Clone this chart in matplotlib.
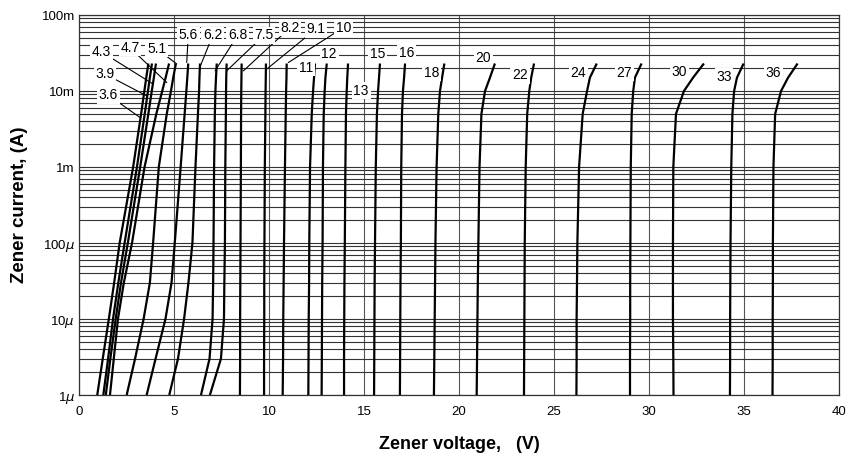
import numpy as np
import matplotlib
matplotlib.use("Agg")
import matplotlib.pyplot as plt
from matplotlib.ticker import FixedLocator, LogLocator, NullFormatter

plt.rcParams['font.family'] = ['Liberation Sans', 'DejaVu Sans']

# Current levels (A) at which each curve's voltage was read
currents = [1e-6, 3e-6, 10e-6, 30e-6, 100e-6, 1e-3, 5e-3, 10e-3, 15e-3, 23e-3]

v3_6 = [0.96, 1.25, 1.57, 1.85, 2.14, 2.85, 3.27, 3.44, 3.54, 3.65]
v3_9 = [1.28, 1.53, 1.79, 2.07, 2.40, 3.05, 3.46, 3.63, 3.73, 3.84]
v4_3 = [1.41, 1.65, 1.93, 2.21, 2.57, 3.22, 3.65, 3.83, 3.94, 4.05]
v4_7 = [1.63, 1.83, 2.05, 2.36, 2.79, 3.45, 4.07, 4.38, 4.56, 4.74]
v5_1 = [2.51, 2.95, 3.40, 3.73, 3.90, 4.20, 4.62, 4.84, 4.96, 5.10]
v5_6 = [3.56, 4.03, 4.55, 4.87, 5.04, 5.35, 5.56, 5.65, 5.70, 5.75]
v6_2 = [4.75, 5.21, 5.53, 5.76, 5.97, 6.13, 6.26, 6.32, 6.34, 6.37]
v6_8 = [6.42, 6.87, 7.03, 7.06, 7.08, 7.11, 7.15, 7.18, 7.21, 7.25]
v7_5 = [6.89, 7.47, 7.63, 7.65, 7.68, 7.70, 7.73, 7.74, 7.75, 7.77]
v8_2 = [8.47, 8.48, 8.48, 8.49, 8.50, 8.52, 8.53, 8.54, 8.55, 8.56]
v9_1 = [9.74, 9.74, 9.75, 9.75, 9.76, 9.78, 9.81, 9.82, 9.83, 9.84]
v10 = [10.72, 10.74, 10.75, 10.77, 10.79, 10.84, 10.88, 10.90, 10.92, 10.93]
v11 = [12.07, 12.08, 12.09, 12.11, 12.12, 12.16, 12.25, 12.32, 12.37, 12.42]
v12 = [12.77, 12.78, 12.79, 12.80, 12.82, 12.84, 12.88, 12.93, 12.97, 13.04]
v13 = [13.95, 13.95, 13.96, 13.97, 13.99, 14.02, 14.05, 14.09, 14.12, 14.16]
v15 = [15.53, 15.54, 15.55, 15.56, 15.58, 15.62, 15.68, 15.74, 15.79, 15.84]
v16 = [16.89, 16.90, 16.91, 16.92, 16.94, 16.96, 17.00, 17.05, 17.11, 17.16]
v18 = [18.68, 18.70, 18.72, 18.74, 18.76, 18.82, 18.91, 19.00, 19.11, 19.23]
v20 = [20.93, 20.95, 20.97, 20.99, 21.02, 21.08, 21.18, 21.37, 21.63, 21.89]
v22 = [23.42, 23.43, 23.44, 23.45, 23.46, 23.51, 23.59, 23.70, 23.80, 23.95]
v24 = [26.18, 26.19, 26.19, 26.21, 26.23, 26.32, 26.51, 26.74, 26.89, 27.25]
v27 = [29.00, 29.00, 29.01, 29.01, 29.02, 29.04, 29.09, 29.17, 29.26, 29.61]
v30 = [31.29, 31.28, 31.26, 31.26, 31.26, 31.28, 31.42, 31.84, 32.32, 32.89]
v33 = [34.26, 34.27, 34.27, 34.28, 34.29, 34.33, 34.39, 34.48, 34.63, 34.98]
v36 = [36.50, 36.51, 36.51, 36.52, 36.52, 36.55, 36.64, 36.95, 37.32, 37.82]

curve_voltages = [v3_6, v3_9, v4_3, v4_7, v5_1, v5_6, v6_2, v6_8, v7_5, v8_2,
                  v9_1, v10, v11, v12, v13, v15, v16, v18, v20, v22, v24,
                  v27, v30, v33, v36]

labels = ["3.6", "3.9", "4.3", "4.7", "5.1", "5.6", "6.2", "6.8", "7.5", "8.2",
          "9.1", "10", "11", "12", "13", "15", "16", "18", "20", "22", "24",
          "27", "30", "33", "36"]
# label text positions (V, A)
label_v = [1.54, 1.37, 1.19, 2.68, 4.09, 5.75, 7.04, 8.35, 9.74, 11.11,
           12.47, 13.91, 11.95, 13.17, 14.85, 15.72, 17.25, 18.56, 21.28, 23.21,
           26.28, 28.70, 31.59, 33.95, 36.54]
label_i = [8.84e-3, 16.7e-3, 32.7e-3, 37.2e-3, 36.1e-3, 54.2e-3, 54.2e-3, 54.2e-3,
           54.2e-3, 68.1e-3, 65.5e-3, 68.1e-3, 20.3e-3, 30.5e-3, 10.1e-3, 30.5e-3,
           32.0e-3, 17.5e-3, 27.5e-3, 16.3e-3, 17.0e-3, 17.5e-3, 18.0e-3, 15.4e-3,
           17.5e-3]
# leader line end points on curves (V, A) for the first labels
leader_v = [3.21, 3.56, 3.89, 4.62, 5.14, 5.67, 6.37, 7.16, 7.77, 8.65, 9.88, 11.02]
leader_i = [4.49e-3, 8.65e-3, 12.4e-3, 12.9e-3, 22.7e-3, 23.7e-3, 20.8e-3, 18.4e-3,
            18.4e-3, 18.4e-3, 19.4e-3, 23.7e-3]

x_ticks = [0, 5, 10, 15, 20, 25, 30, 35, 40]
y_ticks = [1e-6, 1e-5, 1e-4, 1e-3, 1e-2, 1e-1]
y_ticklabels = ["1$\\mu$", "10$\\mu$", "100$\\mu$", "1m", "10m", "100m"]

fig = plt.figure(figsize=(8.57, 4.63), dpi=100)
ax = fig.add_axes([79/857, 1 - 395/463, (839 - 79)/857, (395 - 15)/463])

ax.set_xlim(0, 40)
ax.set_yscale('log')
ax.set_ylim(1e-6, 1e-1)

ax.xaxis.set_major_locator(FixedLocator(x_ticks))
ax.set_xticklabels([str(t) for t in x_ticks])
ax.yaxis.set_major_locator(FixedLocator(y_ticks))
ax.set_yticklabels(y_ticklabels)
ax.yaxis.set_minor_locator(LogLocator(base=10, subs=np.arange(2, 10)))
ax.yaxis.set_minor_formatter(NullFormatter())

ax.grid(True, which='major', axis='x', color='#555555', lw=0.8)
ax.grid(True, which='both', axis='y', color='#333333', lw=0.8)
ax.tick_params(which='both', length=0, labelsize=9.5, colors='black')
ax.tick_params(axis='x', pad=8)
ax.tick_params(axis='y', pad=3)
for s in ax.spines.values():
    s.set_color('#333333')
    s.set_linewidth(0.9)
ax.set_axisbelow(True)

for v in curve_voltages:
    ax.plot(v, currents, color='black', lw=1.6, solid_capstyle='butt', zorder=3)

for k, lab in enumerate(labels):
    ax.text(label_v[k], label_i[k], lab, fontsize=10, ha='center', va='center',
            zorder=5, bbox=dict(boxstyle='square,pad=0.12', fc='white', ec='none'))
    if k < len(leader_v):
        ax.annotate('', xy=(leader_v[k], leader_i[k]), xytext=(label_v[k], label_i[k]),
                    arrowprops=dict(arrowstyle='-', color='black', lw=0.8,
                                    shrinkA=6, shrinkB=0), zorder=4)

ax.set_xlabel("Zener voltage,   (V)", fontsize=13, fontweight='bold', labelpad=13)
ax.set_ylabel("Zener current, (A)", fontsize=13.5, fontweight='bold', labelpad=10)

fig.savefig("out.png", dpi=100)
